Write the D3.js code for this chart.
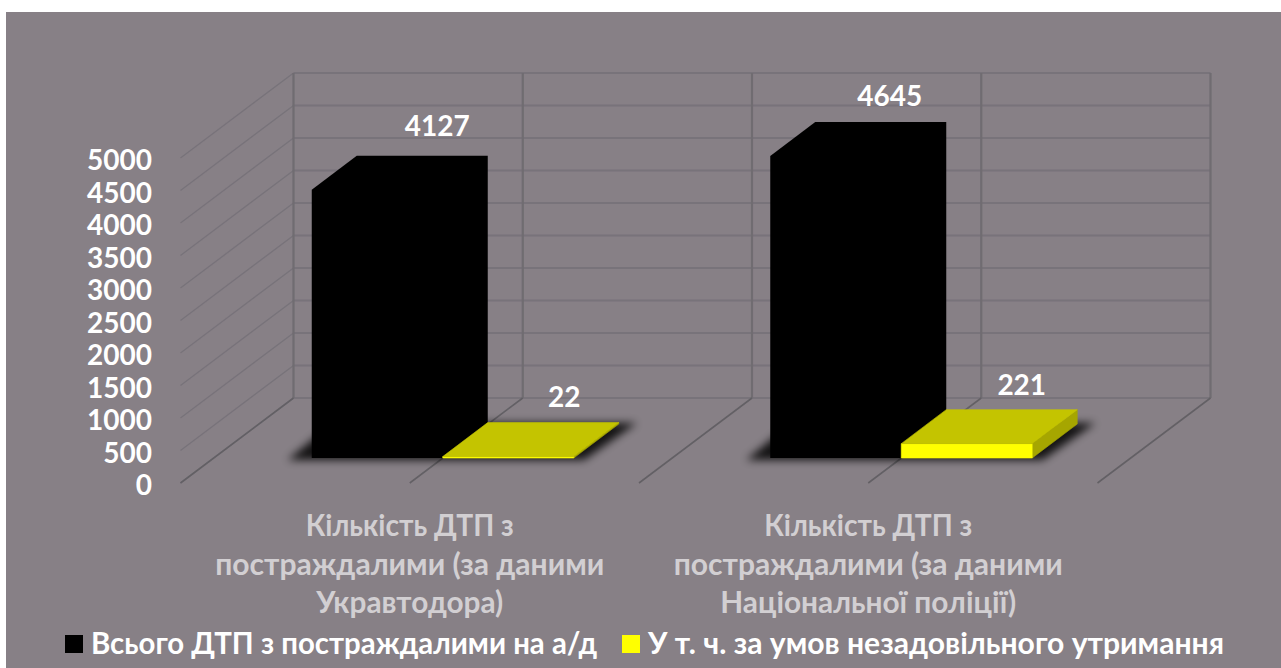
<!DOCTYPE html>
<html>
<head>
<meta charset="utf-8">
<script src="https://cdn.jsdelivr.net/npm/d3@7"></script>
<style>
  html, body { margin: 0; padding: 0; background: #fff; overflow: hidden; }
  svg { display: block; }
  text { font-family: Lato, "Open Sans", sans-serif; font-weight: 700; }
</style>
</head>
<body>
<svg width="1281" height="668"></svg>
<script>
// chart values
const categories = ["ukravtodor", "police"];
const categoryLines = [
  ["Кількість ДТП з", "постраждалими (за даними", "Укравтодора)"],
  ["Кількість ДТП з", "постраждалими (за даними", "Національної поліції)"]
];
const seriesNames = ["Всього ДТП з постраждалими на а/д", "У т. ч. за умов незадовільного утримання"];
const totalValues = [4127, 4645];
const badRoadValues = [22, 221];
const yTicks = [0, 500, 1000, 1500, 2000, 2500, 3000, 3500, 4000, 4500, 5000];

// layout of the fake 3d box
const floorDx = 113, floorDy = 85;     // back wall -> front of floor
const barDx = 45, barDy = 34;          // depth of a bar
const barInset = 33, barLift = 25;     // front of bar sits this far in from the floor edge
const labelNudge = [[15, 20, 11, 16], [9, 16, 10, 15]];   // by hand, like in the original
const numberSize = 28, textSize = 29.8;
const categoryLineWidths = [[208, 389, 187], [208, 389, 296]];
const legendWidths = [506, 576];

const svg = d3.select("svg");

const y = d3.scaleLinear().domain([0, 5000]).range([398, 73]);
// x is measured along the front edge of the floor
const x0 = d3.scaleBand().domain(categories).range([180.5, 1097.5]);
const x1 = d3.scaleBand().domain([0, 1]).range([0, x0.bandwidth()]).paddingInner(0).paddingOuter(0.75);

const defs = svg.append("defs");
defs.append("filter").attr("id", "soft")
  .attr("x", "-30%").attr("y", "-60%").attr("width", "160%").attr("height", "220%")
  .append("feGaussianBlur").attr("stdDeviation", 4.5);
defs.append("filter").attr("id", "line-soft")
  .attr("filterUnits", "userSpaceOnUse")
  .attr("x", 0).attr("y", 0).attr("width", 1281).attr("height", 668)
  .append("feGaussianBlur").attr("stdDeviation", 0.6);

svg.append("rect").attr("x", 6).attr("y", 12).attr("width", 1275).attr("height", 656).attr("fill", "#878086");

// walls and floor
const grid = svg.append("g").attr("fill", "none").attr("stroke", "#78737a").attr("filter", "url(#line-soft)");
const backLeft = x0.range()[0] + floorDx, backRight = x0.range()[1] + floorDx;
const verticals = d3.range(5).map(i => x0.range()[0] + i * x0.bandwidth() / 2);

grid.selectAll("line.h").data(yTicks).join("line").attr("class", "h")
  .attr("x1", backLeft).attr("x2", backRight)
  .attr("y1", d => y(d)).attr("y2", d => y(d))
  .attr("stroke-width", 2);

grid.selectAll("line.side").data(yTicks).join("line").attr("class", "side")
  .attr("x1", backLeft).attr("y1", d => y(d))
  .attr("x2", backLeft - floorDx).attr("y2", d => y(d) + floorDy)
  .attr("stroke-width", 1.4);

grid.selectAll("line.v").data(verticals).join("line").attr("class", "v")
  .attr("x1", d => d + floorDx).attr("x2", d => d + floorDx)
  .attr("y1", y(5000)).attr("y2", y(0))
  .attr("stroke", "#6f6c71").attr("stroke-width", 2.2);

grid.selectAll("line.floor").data(verticals).join("line").attr("class", "floor")
  .attr("x1", d => d + floorDx).attr("y1", y(0))
  .attr("x2", d => d).attr("y2", y(0) + floorDy)
  .attr("stroke", "#636065").attr("stroke-width", 1.6);

// y axis labels sit in front of the side wall
const axis = svg.append("g")
  .attr("transform", `translate(152,${floorDy + 3})`)
  .call(d3.axisLeft(y).tickValues(yTicks).tickFormat(d3.format("d")).tickSize(0).tickPadding(0));
axis.select(".domain").remove();
axis.selectAll("text").attr("fill", "#fff").attr("font-size", numberSize).style("font-family", "Lato").style("font-weight", 700);

// bars
const baseY = y(0) + floorDy - barLift;
const px = v => baseY - (y(0) - y(v));
const pts = a => a.map(p => p.join(",")).join(" ");

function drawBar(g, left, w, v, front, top, side) {
  const t = px(v), l = left, r = left + w;
  g.append("polygon").attr("fill", side).attr("stroke", side).attr("stroke-width", 0.6)
    .attr("points", pts([[r, t], [r + barDx, t - barDy], [r + barDx, baseY - barDy], [r, baseY]]));
  g.append("polygon").attr("fill", front).attr("stroke", front).attr("stroke-width", 0.6)
    .attr("points", pts([[l, t], [r, t], [r, baseY], [l, baseY]]));
  g.append("polygon").attr("fill", top).attr("stroke", top).attr("stroke-width", 0.6)
    .attr("points", pts([[l, t], [l + barDx, t - barDy], [r + barDx, t - barDy], [r, t]]));
}

// the black bar has no visible faces, only an outline
function drawSolidBar(g, left, w, v, color) {
  const t = px(v), l = left, r = left + w;
  g.append("polygon").attr("fill", color)
    .attr("points", pts([[l, t], [l + barDx, t - barDy], [r + barDx, t - barDy],
      [r + barDx, baseY - barDy], [r, baseY], [l, baseY]]));
}

categories.forEach((c, i) => {
  const left = x0(c) + barInset;
  const blackX = left + x1(0), yellowX = left + x1(1), w = x1.bandwidth();

  // blurred floor shadow under both bars
  svg.append("polygon").attr("fill", "#000").attr("opacity", 0.85).attr("filter", "url(#soft)")
    .attr("points", pts([
      [blackX - 24, baseY + 2], [yellowX + w + 10, baseY + 2],
      [yellowX + w + barDx + 18, baseY - barDy - 1], [blackX + barDx - 24, baseY - barDy - 1]
    ]));

  const g = svg.append("g");
  drawSolidBar(g, blackX, w, totalValues[i], "#000");
  drawBar(g, yellowX, w, badRoadValues[i], "#ffff00", "#c4c400", "#a6a600");

  // data labels
  const nudge = labelNudge[i];
  svg.append("text").attr("text-anchor", "middle").attr("fill", "#fff").attr("font-size", numberSize)
    .attr("x", blackX + w / 2 + barDx + nudge[0]).attr("y", px(totalValues[i]) - barDy - nudge[1])
    .text(totalValues[i]);
  svg.append("text").attr("text-anchor", "middle").attr("fill", "#fff").attr("font-size", numberSize)
    .attr("x", yellowX + w / 2 + barDx + nudge[2]).attr("y", px(badRoadValues[i]) - barDy - nudge[3])
    .text(badRoadValues[i]);

  // category label, three lines
  svg.append("g").selectAll("text").data(categoryLines[i]).join("text")
    .attr("text-anchor", "middle").attr("fill", "#d2cfd2").attr("font-size", textSize)
    .attr("x", x0(c) + x0.bandwidth() / 2)
    .attr("y", (d, j) => 536 + j * 38.5)
    .attr("textLength", (d, j) => categoryLineWidths[i][j])
    .attr("lengthAdjust", "spacingAndGlyphs")
    .text(d => d);
});

// legend
const legendX = [65, 622], legendTextX = [91, 648];
const legendColors = ["#000", "#ffff00"];
seriesNames.forEach((name, i) => {
  svg.append("rect").attr("x", legendX[i]).attr("y", 635).attr("width", 18).attr("height", 18).attr("fill", legendColors[i]);
  svg.append("text").attr("x", legendTextX[i]).attr("y", 654).attr("fill", "#fff").attr("font-size", textSize)
    .attr("textLength", legendWidths[i]).attr("lengthAdjust", "spacingAndGlyphs").text(name);
});
</script>
</body>
</html>
